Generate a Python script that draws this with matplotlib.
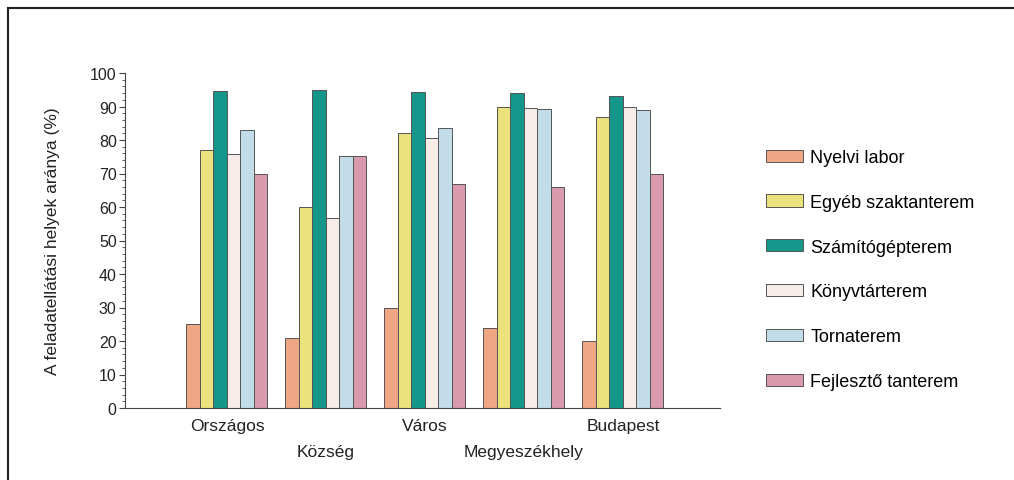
import numpy as np
import matplotlib.pyplot as plt
from matplotlib.lines import Line2D
from matplotlib.ticker import MultipleLocator

plt.rcParams['font.family'] = ['Liberation Sans', 'DejaVu Sans']

# data
places = ["Országos", "Község", "Város", "Megyeszékhely", "Budapest"]
room_types = ["Nyelvi labor", "Egyéb szaktanterem", "Számítógépterem",
              "Könyvtárterem", "Tornaterem", "Fejlesztő tanterem"]
nyelvi = [25, 21, 30, 24, 20]
egyeb = [77, 60, 82, 90, 87]
szamitogep = [94.5, 95, 94.3, 94, 93]
konyvtar = [75.7, 56.7, 80.5, 89.5, 90]
torna = [83, 75.2, 83.7, 89.2, 89]
fejleszto = [70, 75.2, 67, 66, 70]
series = [nyelvi, egyeb, szamitogep, konyvtar, torna, fejleszto]

colors = ["#f0a584", "#ebe27e", "#15968a", "#f8ece9", "#c2dde9", "#d99aae"]

fig = plt.figure(figsize=(10.14, 4.81), dpi=100)
ax = fig.add_axes([125 / 1014, 1 - 409 / 481, 595 / 1014, 335 / 481])

x = np.arange(len(places))
w = 0.1364
for i, (vals, col) in enumerate(zip(series, colors)):
    ax.bar(x + (i - 2.5) * w, vals, width=w, color=col, edgecolor="#555555",
           linewidth=0.7, label=room_types[i])

ax.set_xlim(-1.03, 4.98)
ax.set_ylim(0, 100)
ax.yaxis.set_major_locator(MultipleLocator(10))
ax.yaxis.set_minor_locator(MultipleLocator(2))
ax.tick_params(axis="y", which="major", length=4, width=0.8, colors="#444444",
               labelsize=11.5, labelcolor="#222222", pad=2)
ax.tick_params(axis="y", which="minor", length=2.5, width=0.6, colors="#444444")
ax.tick_params(axis="x", length=0, labelsize=12.5, labelcolor="#222222")

ax.set_xticks(x)
ax.set_xticklabels(places)
for i, tick in enumerate(ax.xaxis.get_major_ticks()):
    tick.set_pad(7 if i % 2 == 0 else 26)

for side in ["top", "right"]:
    ax.spines[side].set_visible(False)
for side in ["left", "bottom"]:
    ax.spines[side].set_color("#444444")
    ax.spines[side].set_linewidth(0.8)

ax.set_ylabel("A feladatellátási helyek aránya (%)", fontsize=12.5, color="#222222")
ax.yaxis.set_label_coords(-0.109, 0.5)

fig.legend(loc="upper left", bbox_to_anchor=(766 / 1014, 1 - 150 / 481),
           frameon=False, fontsize=13, borderpad=0, borderaxespad=0,
           handlelength=2.05, handleheight=0.66, handletextpad=0.4,
           labelspacing=1.54)

# outer frame (left and top edges only)
fig.add_artist(Line2D([8 / 1014, 8 / 1014], [0, 1 - 9 / 481], color="#222222", lw=1.5))
fig.add_artist(Line2D([8 / 1014, 1], [1 - 9 / 481, 1 - 9 / 481], color="#222222", lw=1.5))

fig.savefig("out.png", dpi=100)
